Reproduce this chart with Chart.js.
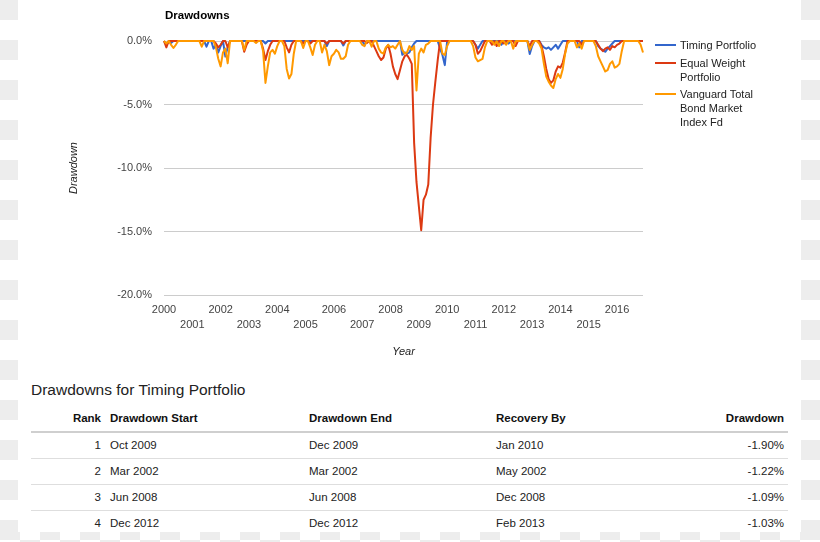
<!DOCTYPE html>
<html><head><meta charset="utf-8">
<script src="https://cdn.jsdelivr.net/npm/chart.js@4.4.0/dist/chart.umd.min.js"></script>
<style>
html,body{margin:0;padding:0;}
body{width:820px;height:542px;overflow:hidden;position:relative;font-family:"Liberation Sans",Arial,sans-serif;
background-color:#fff;background-image:conic-gradient(#fff 25%,#ededed 0 50%,#fff 0 75%,#ededed 0);background-size:40px 40px;}
#sheet{position:absolute;left:18px;top:0;width:783px;height:532px;background:#fff;}
#c{position:absolute;left:0;top:0;}
#chartTitle{position:absolute;left:165px;top:8px;font-size:11.5px;font-weight:bold;color:#000;line-height:14px;}
#legend{position:absolute;left:655px;top:38px;display:flex;flex-direction:column;gap:3.5px;}
.li{display:flex;align-items:flex-start;font-size:11px;line-height:14px;color:#222;}
.sw{width:21px;height:2px;margin-top:6px;flex:none;}
.lt{margin-left:4px;width:88px;}
#tblTitle{position:absolute;left:31px;top:380px;font-size:15.5px;line-height:20px;color:#222;}
#tbl{position:absolute;left:31px;top:406px;width:757px;border-collapse:collapse;table-layout:fixed;font-size:11.5px;color:#222;}
#tbl th,#tbl td{height:25px;line-height:25px;padding:0 0 0 5px;text-align:left;white-space:nowrap;}
#tbl th{font-weight:bold;border-bottom:2px solid #cfcfcf;color:#111;}
#tbl td{border-bottom:1px solid #dedede;}
#tbl tr:last-child td{border-bottom:none;}
#tbl .r{text-align:right;padding:0 4px 0 0;}
</style></head>
<body>
<div id="sheet"></div>
<canvas id="c" width="820" height="370"></canvas>
<div id="chartTitle">Drawdowns</div>
<div id="legend"></div>
<div id="tblTitle">Drawdowns for Timing Portfolio</div>
<table id="tbl">
<colgroup><col style="width:74px"><col style="width:199px"><col style="width:187px"><col style="width:200px"><col style="width:97px"></colgroup>
<thead><tr><th class="r">Rank</th><th>Drawdown Start</th><th>Drawdown End</th><th>Recovery By</th><th class="r">Drawdown</th></tr></thead>
<tbody id="tb"></tbody></table>
<script>
// ---- data (monthly drawdown %, Jan 2000 .. Dec 2016) ----
const years = [2000,2001,2002,2003,2004,2005,2006,2007,2008,2009,2010,2011,2012,2013,2014,2015,2016];
const yTickValues = [0,-5,-10,-15,-20];
const seriesNames = ['Timing Portfolio','Equal Weight Portfolio','Vanguard Total Bond Market Index Fd'];

const timingDD = [
 0,-0.3,0,-0.15,0,0,0,0,0,0,0,0,            // 2000
 0,0,0,0,0,0,-0.45,0,0,-0.6,-0.3,-0.9,      // 2001
 -0.4,0,-1.22,-0.5,0,0,0,0,0,0,0,0,         // 2002
 0,0,0,0,0,0,0,-0.2,0,0,0,0,                // 2003
 0,0,0,0,0,0,0,0,0,0,0,0,                   // 2004
 0,0,0,0,0,0,0,0,0,-0.4,0,0,                // 2005
 0,0,0,0,-0.35,0,0,0,0,0,0,0,               // 2006
 0,-0.3,0,0,0,0,0,0,0,0,0,0,                // 2007
 0,0,0,0,0,-1.09,-0.9,-1.0,-0.9,-0.5,-0.2,0, // 2008
 0,0,0,0,0,0,0,0,0,-0.6,-1.1,-1.9,          // 2009
 0,0,0,0,0,0,0,0,0,0,0,0,                   // 2010
 -0.3,-0.6,-0.3,0,0,0,0,0,0,0,0,-0.3,       // 2011
 0,0,-0.2,0,0,0,0,0,0,0,0,-1.03,            // 2012
 -0.4,0,0,0,-0.3,-0.5,-0.6,-0.5,-0.7,-0.5,-0.3,-0.6, // 2013
 -0.3,0,0,0,0,0,0,0,-0.5,0,0,0,             // 2014
 0,0,0,0,-0.4,-0.6,-0.7,-0.85,-0.6,-0.4,-0.2,0, // 2015
 0,0,0,0,0,0,0,0,0,0,0,0                    // 2016
];
const equalWeightDD = [
 0,-0.5,0,0,0,0,0,0,0,0,0,0,                // 2000
 0,0,0,0,0,0,0,0,0,0,-0.2,-0.5,             // 2001
 -0.3,0,0,-0.5,0,0,0,0,0,0,-0.85,-0.3,      // 2002
 0,0,0,0,0,0,-0.6,-1.5,-0.8,-0.3,0,0,       // 2003
 0,0,0,0,-0.5,-0.9,-0.3,0,0,0,0,-0.2,       // 2004
 0,0,-0.2,0,0,0,0,0,0,-0.2,0,0,             // 2005
 0,0,0,0,-0.2,0,0,0,0,0,0,0,                // 2006
 0,0,-0.15,0,0,-0.4,-0.8,-1.2,-1.5,-1.3,-0.6,-0.3, // 2007
 -1.0,-2.0,-2.6,-3.0,-2.3,-1.6,-1.2,-1.1,-1.4,-1.8,-8.0,-11.1, // 2008
 -13.0,-14.9,-12.5,-12.1,-11.3,-7.6,-5.0,-3.2,-1.5,0,0,0, // 2009
 0,0,0,0,0,0,0,0,0,0,0,0,                   // 2010
 -0.3,-1.0,-0.8,-0.4,0,0,0,-0.3,0,-0.4,0,0, // 2011
 -0.2,0,0,0,0,-0.4,0,0,0,0,0,-0.4,          // 2012
 0,0,0,0,-0.4,-1.2,-2.2,-3.0,-3.3,-3.1,-2.4,-2.0, // 2013
 -2.1,-1.7,-0.9,0,0,0,0,0,0,-0.3,0,0,       // 2014
 0,0,0,0,-0.3,-0.6,-0.8,-0.6,-0.5,-0.7,-0.4,-0.5, // 2015
 -0.3,-0.2,0,0,0,0,0,0,0,0,0,0              // 2016
];
const vanguardDD = [
 0,-0.2,0,-0.3,-0.55,-0.3,0,0,0,0,0,0,      // 2000
 0,0,0,0,-0.45,0,0,0,0,0,-0.5,-1.4,         // 2001
 -2.0,-0.9,-0.6,-1.75,0,0,0,0,0,0,-0.7,0,   // 2002
 0,0,0,-0.15,0,0,-0.8,-3.3,-2.0,-0.9,-0.7,-1.0, // 2003
 -0.4,0,0,-0.4,-2.2,-2.95,-2.6,-1.0,0,0,0,-0.55, // 2004
 0,0,-0.5,-1.1,-0.3,0,0,-0.9,-0.3,-0.8,-1.9,-1.2, // 2005
 -1.0,-0.7,-0.9,-1.4,-1.4,-1.2,-0.3,0,0,0,0,0, // 2006
 -0.3,-0.4,0,0,-0.45,0,0,-0.6,-0.9,-1.0,-0.5,-0.3, // 2007
 -0.5,-0.4,-0.6,-0.3,0,-0.7,-1.0,-0.9,-0.4,-0.7,-0.4,-3.9, // 2008
 -1.0,-0.6,-0.9,-0.3,-0.2,0,0,0,0,0,-1.0,-1.1, // 2009
 -0.4,0,0,0,0,0,0,0,0,0,0,-0.4,             // 2010
 -1.3,-1.6,-1.5,-1.4,-0.5,0,0,0,-0.3,0,-0.4,0, // 2011
 0,-0.3,0,0,-0.6,0,0,0,0,0,0,-0.7,          // 2012
 -0.3,0,0,-0.2,-0.6,-1.8,-2.8,-3.2,-3.5,-3.7,-3.0,-2.6, // 2013
 -2.9,-2.2,-1.0,-0.2,0,0,0,-0.5,-0.2,-0.6,0,0, // 2014
 0,0,0,-0.4,-1.2,-1.6,-2.0,-2.4,-2.3,-1.8,-1.6,-2.1, // 2015
 -2.0,-1.8,-0.8,0,0,0,0,0,0,0,-0.3,-0.9     // 2016
];

// table data
const ranks = [1,2,3,4];
const ddStart = ['Oct 2009','Mar 2002','Jun 2008','Dec 2012'];
const ddEnd = ['Dec 2009','Mar 2002','Jun 2008','Dec 2012'];
const ddRecovery = ['Jan 2010','May 2002','Dec 2008','Feb 2013'];
const ddDepth = ['-1.90%','-1.22%','-1.09%','-1.03%'];

// ---- table ----
const tb = document.getElementById('tb');
ranks.forEach((r,i)=>{
  const tr = document.createElement('tr');
  tr.innerHTML = '<td class="r">'+r+'</td><td>'+ddStart[i]+'</td><td>'+ddEnd[i]+'</td><td>'+ddRecovery[i]+'</td><td class="r">'+ddDepth[i]+'</td>';
  tb.appendChild(tr);
});

// ---- chart ----
Chart.defaults.font.family = '"Liberation Sans", Arial, sans-serif';
const toXY = arr => arr.map((v,i)=>({x:i, y:v}));
const colors = ['#3366cc','#dc3912','#ff9900'];
const allSeries = [timingDD, equalWeightDD, vanguardDD];

const chart = new Chart(document.getElementById('c'), {
  type:'line',
  data:{datasets: allSeries.map((s,i)=>({
    label: seriesNames[i], data: toXY(s), borderColor: colors[i], backgroundColor: colors[i],
    order: 3-i, clip: false
  }))},
  options:{
    responsive:false, animation:false, devicePixelRatio:1,
    layout:{padding:{left:0,right:177,top:41,bottom:0}},
    elements:{point:{radius:0}, line:{borderWidth:2, tension:0, borderJoinStyle:'round', fill:false}},
    plugins:{legend:{display:false}, tooltip:{enabled:false}},
    scales:{
      x:{type:'linear', min:0, max:(years.length*12-1),
        grid:{display:false}, border:{display:false},
        afterBuildTicks(s){ s.ticks = years.map((y,i)=>({value:i*12})); },
        afterFit(s){ s.height = 75; },
        ticks:{padding:0, maxRotation:0, minRotation:0, autoSkip:false, color:'#444',
          font:{size:11, lineHeight:1.35},
          callback(v){ const y = years[Math.round(v/12)]; return (y%2) ? ['', String(y)] : String(y); }},
        title:{display:true, text:'Year', color:'#222', font:{size:11, style:'italic'}, padding:{top:0,bottom:11}}
      },
      y:{min:yTickValues[yTickValues.length-1], max:yTickValues[0],
        afterBuildTicks(s){ s.ticks = yTickValues.map(v=>({value:v})); },
        afterFit(s){ s.width = 164; },
        grid:{color:'#cccccc', drawTicks:false}, border:{display:false},
        ticks:{padding:12, color:'#444', font:{size:11}, callback:v=>v.toFixed(1)+'%'},
        title:{display:true, text:'Drawdown', color:'#222', font:{size:11, style:'italic'}, padding:{top:67,bottom:0}}
      }
    }
  }
});

// ---- HTML legend from datasets ----
const lg = document.getElementById('legend');
chart.data.datasets.forEach(ds=>{
  const d = document.createElement('div'); d.className='li';
  d.innerHTML = '<span class="sw" style="background:'+ds.borderColor+'"></span><span class="lt">'+ds.label+'</span>';
  lg.appendChild(d);
});
</script>
</body></html>
